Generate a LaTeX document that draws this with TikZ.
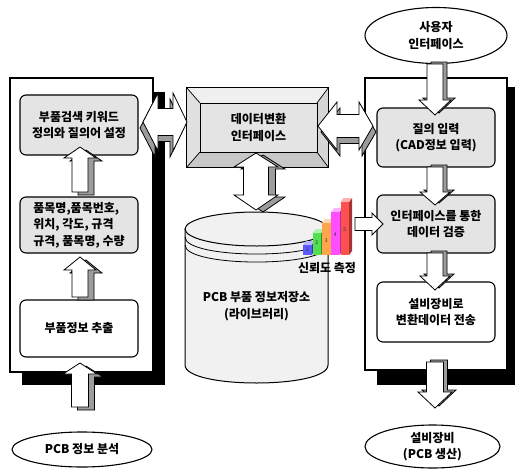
\documentclass[tikz,border=0pt]{standalone}
\usepackage{fontspec}
\setmainfont{Noto Sans CJK KR}
\usetikzlibrary{shapes.geometric}
\definecolor{boxg}{HTML}{E4E4E4}
\definecolor{sideg}{HTML}{9C9C9C}
\definecolor{cylg}{HTML}{F1F1F1}
\definecolor{cb1}{HTML}{5A5AFF}
\definecolor{cb2}{HTML}{50E050}
\definecolor{cb3}{HTML}{FFA64D}
\definecolor{cb4}{HTML}{FF4DFF}
\definecolor{cb5}{HTML}{FF5050}
% vertical block arrow: xc, ytail, ybase, ytip, shaft half width, head half width, dx, dy
\newcommand\BlkV[8]{%
  \foreach \ddx/\ddy/\ff in {#7/#8/sideg, 0/0/white}{%
    \draw[blockline, fill=\ff, shift={(\ddx,\ddy)}] ({#1-#5},#2) -- ({#1-#5},#3) -- ({#1-#6},#3) -- (#1,#4) -- ({#1+#6},#3) -- ({#1+#5},#3) -- ({#1+#5},#2) -- cycle;}}
% vertical double block arrow: xc, tip1, base1, base2, tip2, sw, hw, dx, dy
\newcommand\BlkVV[9]{%
  \foreach \ddx/\ddy/\ff in {#8/#9/sideg, 0/0/white}{%
    \draw[blockline, fill=\ff, shift={(\ddx,\ddy)}] ({#1-#6},#3) -- ({#1-#7},#3) -- (#1,#2) -- ({#1+#7},#3) -- ({#1+#6},#3) -- ({#1+#6},#4) -- ({#1+#7},#4) -- (#1,#5) -- ({#1-#7},#4) -- ({#1-#6},#4) -- cycle;}}
% horizontal double block arrow: yc, tip1, base1, base2, tip2, sw, hw, dx, dy
\newcommand\BlkHH[9]{%
  \foreach \ddx/\ddy/\ff in {#8/#9/sideg, 0/0/white}{%
    \draw[blockline, fill=\ff, shift={(\ddx,\ddy)}] (#3,{#1-#6}) -- (#3,{#1-#7}) -- (#2,#1) -- (#3,{#1+#7}) -- (#3,{#1+#6}) -- (#4,{#1+#6}) -- (#4,{#1+#7}) -- (#5,#1) -- (#4,{#1-#7}) -- (#4,{#1-#6}) -- cycle;}}
% 3D bar: x, top, colour, label y, label
\newcommand\ChartBar[5]{%
  \fill[#3!65!black] ({#1+8.5},#2) -- ({#1+11.5},{#2-4}) -- ({#1+11.5},251) -- ({#1+8.5},255) -- cycle;
  \fill[#3!45!white] (#1,#2) -- ({#1+3},{#2-4}) -- ({#1+11.5},{#2-4}) -- ({#1+8.5},#2) -- cycle;
  \fill[#3] (#1,#2) rectangle ({#1+8.5},255);
  \node[font=\fontsize{5}{5}\selectfont, text=black!80, inner sep=0pt] at ({#1+4.25},#4) {#5};}
\begin{document}
\begin{tikzpicture}[x=1pt,y=-1pt,
  font=\fontsize{12}{16.5}\selectfont\bfseries,
  blockline/.style={draw=black, line width=0.8pt, line join=miter},
  rbox/.style={draw=black, line width=1.1pt, rounded corners=6pt, fill=boxg, minimum width=118pt, align=center, inner sep=2pt},
  wbox/.style={rbox, fill=white},
  oval/.style={ellipse, draw=black, line width=1.1pt, fill=white, align=center, inner sep=0pt},
  panel/.style={draw=black, line width=1.1pt, fill=white}]
\useasboundingbox (0,0) rectangle (515,469);

% panels with shadows
\fill[black] (22,92) rectangle (165,385);
\draw[panel] (10,78) rectangle (153,372);
\fill[black] (377,87) rectangle (515,385);
\draw[panel] (365,78) rectangle (507,370);

% left boxes
\node[rbox, minimum height=60pt] (L1) at (79,125) {부품검색 키워드\\정의와 질의어 설정};
\node[rbox, minimum height=56pt, align=left] (L2) at (79,225) {품목명,품목번호,\\위치, 각도, 규격\\규격, 품목명, 수량};
\node[wbox, minimum height=57pt] (L3) at (79,328.5) {부품정보 추출};

% right boxes
\node[rbox, minimum height=59pt] (R1) at (436,137.5) {질의 입력\\(CAD정보 입력)};
\node[rbox, minimum height=58pt] (R2) at (436,224) {인터페이스를 통한\\데이터 검증};
\node[wbox, minimum height=60pt] (R3) at (436,312) {설비장비로\\변환데이터 전송};

% ellipses
\node[oval, minimum width=140pt, minimum height=35pt] (E1) at (82,449.5) {PCB 정보 분석};
\node[oval, minimum width=142pt, minimum height=56pt] (E2) at (436,35.5) {사용자\\인터페이스};
\node[oval, minimum width=135pt, minimum height=43pt] (E3) at (432.5,446.5) {설비장비\\(PCB 생산)};

% central bevelled box
\node[draw=black, line width=1pt, fill=boxg, minimum width=141pt, minimum height=79pt, inner sep=0pt] (C) at (257.5,127.5) {};
\coordinate (ci1) at (200,103);
\coordinate (ci2) at (317,103);
\coordinate (ci3) at (317,152);
\coordinate (ci4) at (200,152);
\fill[black!6] (C.north west) -- (C.north east) -- (ci2) -- (ci1) -- cycle;
\fill[black!12] (C.north west) -- (ci1) -- (ci4) -- (C.south west) -- cycle;
\fill[black!22] (C.south west) -- (ci4) -- (ci3) -- (C.south east) -- cycle;
\fill[black!16] (C.north east) -- (ci2) -- (ci3) -- (C.south east) -- cycle;
\draw[line width=0.7pt] (C.north west) -- (ci1) (C.north east) -- (ci2) (C.south east) -- (ci3) (C.south west) -- (ci4);
\node[draw=black, line width=0.8pt, fill=boxg, minimum width=117pt, minimum height=49pt, align=center, inner sep=0pt] (Cin) at (258.5,127.5) {데이터변환\\인터페이스};
\draw[line width=1pt] (C.north west) rectangle (C.south east);

% cylinder
\path[fill=cylg, draw=black, line width=1pt] (185,229) -- (185,365) .. controls (185,389) and (328,389) .. (328,365) -- (328,229);
\draw[fill=cylg, line width=1pt] (256.5,229) ellipse [x radius=71.5, y radius=17];
\draw[line width=0.8pt] (185,237) .. controls (185,259.7) and (328,259.7) .. (328,237);
\draw[line width=0.8pt] (185,245) .. controls (185,267.7) and (328,267.7) .. (328,245);
\node[align=center] (DB) at (256.5,306) {PCB 부품 정보저장소\\(라이브러리)};

% left panel arrows (up)
\BlkV{80}{192}{158}{147}{8}{16}{6}{3}
\BlkV{80}{297}{270}{257}{8}{16}{6}{3}
\BlkV{80}{407}{374}{363}{8.5}{17}{6}{3}

% right panel arrows (down)
\BlkV{435}{64}{100}{115}{8}{16}{4}{-2}
\BlkV{435}{167}{192}{205}{8}{15}{4}{-2}
\BlkV{435}{253}{276}{290}{8}{15}{4}{-2}
\BlkV{435}{362}{392}{408}{8.5}{17}{4}{-2}

% vertical double arrow between converter and library
\BlkVV{256}{153}{167}{195}{210}{12.5}{22}{7}{2}

% horizontal double arrows
\BlkHH{122}{143}{158}{173}{187}{13.5}{29}{-3}{6}
\BlkHH{126}{318}{337}{359}{373}{11.5}{24}{3}{6}

% reliability chart
\ChartBar{303}{245}{cb1}{250}{1}
\ChartBar{312.5}{233}{cb2}{243}{2}
\ChartBar{322}{223}{cb3}{241}{3}
\ChartBar{331}{212}{cb4}{235}{4}
\ChartBar{340.5}{202}{cb5}{230}{5}
\node (REL) at (327,268) {신뢰도 측정};

% small arrow into verification box
\draw[blockline, fill=white] (355,217.5) -- (372,217.5) -- (372,213) -- (383,224) -- (372,235) -- (372,230.5) -- (355,230.5) -- cycle;
\end{tikzpicture}
\end{document}
